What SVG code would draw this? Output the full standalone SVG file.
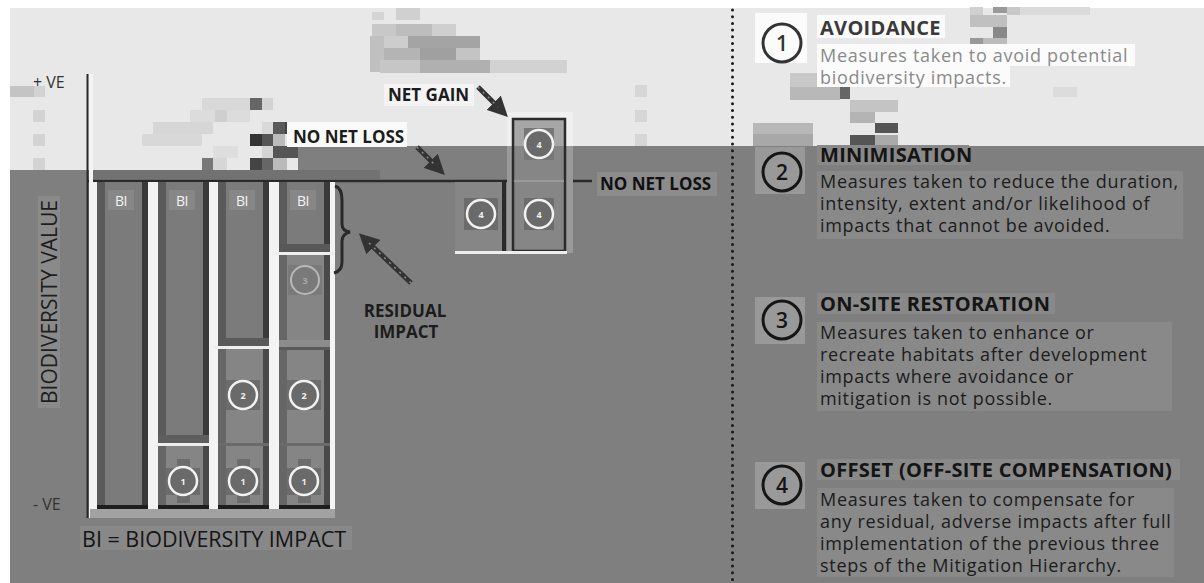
<svg xmlns="http://www.w3.org/2000/svg" width="1204" height="583" viewBox="0 0 1204 583">
<style>
  text{font-family:"Open Sans","Liberation Sans",sans-serif}
  .lbl{font-weight:700;font-size:17px;fill:#1c1c1c}
  .ax{font-size:16px;fill:#333}
  .bi{font-size:14px;fill:#f4f4f4;text-anchor:middle;letter-spacing:-0.5px}
  .bar{fill:#7b7b7b}
  .bl{fill:#5a5a5a}
  .br{fill:#3a3a3a}
  .bb{fill:#1e1e1e}
  .ws{fill:#f3f3f3}
  .sec{fill:#ffffff;fill-opacity:0.08}
  .ring{fill:#6a6a6a;stroke:#f2f2f2;stroke-width:2.5}
  .rnum{font-size:9px;font-weight:700;fill:#f0f0f0;text-anchor:middle}
  .hd{font-weight:700;font-size:20px;letter-spacing:0.3px;fill:#151515}
  .bd{font-size:18px;letter-spacing:0.7px;fill:#1c1c1c}
  .key{fill:none;stroke:#151515;stroke-width:3}
  .knum{font-size:21px;font-weight:600;fill:#151515;text-anchor:middle}
  .arr{stroke:#333;stroke-width:5;fill:none}
  .arrd{stroke:#8a8a8a;stroke-width:1.5;stroke-dasharray:2 5;fill:none}
  .tb{fill:#898989}
</style>
<defs>
  <marker id="head" viewBox="0 0 10 10" refX="3" refY="5" markerWidth="4" markerHeight="4" orient="auto">
    <path d="M0,0 L10,5 L0,10 z" fill="#333"/>
  </marker>
</defs>

<!-- backdrop: pale band above, grey field below -->
<rect width="1204" height="583" fill="#ffffff"/>
<rect x="10" y="8" width="1194" height="575" fill="#7f7f7f"/>
<path d="M10,8 H1204 V146 H298 V170 H10 Z" fill="#e8e8e8"/>

<!-- coarse pixel texture in the pale band -->
<g id="texture">
  <rect x="10" y="86" width="24" height="11" fill="#c4c4c4"/>
  <rect x="34" y="86" width="11" height="11" fill="#d2d2d2"/>
  <rect x="33" y="110" width="12" height="12" fill="#d4d4d4"/>
  <rect x="33" y="134" width="12" height="12" fill="#d4d4d4"/>
  <rect x="33" y="158" width="12" height="12" fill="#d4d4d4"/>
  <rect x="202" y="98" width="48" height="12" fill="#d8d8d8"/>
  <rect x="250" y="98" width="12" height="12" fill="#666"/>
  <rect x="262" y="98" width="11" height="12" fill="#d2d2d2"/>
  <rect x="190" y="110" width="60" height="12" fill="#dcdcdc"/>
  <rect x="215" y="110" width="12" height="12" fill="#cfcfcf"/>
  <rect x="153" y="122" width="60" height="12" fill="#d6d6d6"/>
  <rect x="262" y="122" width="11" height="12" fill="#d9d9d9"/>
  <rect x="273" y="122" width="12" height="12" fill="#5a5a5a"/>
  <rect x="285" y="122" width="13" height="12" fill="#444"/>
  <rect x="142" y="134" width="60" height="12" fill="#d8d8d8"/>
  <rect x="250" y="134" width="12" height="12" fill="#333"/>
  <rect x="262" y="134" width="11" height="12" fill="#555"/>
  <rect x="273" y="134" width="12" height="12" fill="#bbb"/>
  <rect x="213" y="146" width="25" height="12" fill="#dedede"/>
  <rect x="262" y="146" width="11" height="12" fill="#d4d4d4"/>
  <rect x="273" y="146" width="25" height="12" fill="#555"/>
  <rect x="202" y="158" width="11" height="12" fill="#777"/>
  <rect x="213" y="158" width="14" height="12" fill="#d6d6d6"/>
  <rect x="250" y="158" width="12" height="12" fill="#444"/>
  <rect x="262" y="158" width="11" height="12" fill="#666"/>
  <rect x="273" y="158" width="14" height="12" fill="#bbb"/>
  <rect x="372" y="12" width="12" height="8" fill="#d4d4d4"/>
  <rect x="396" y="8" width="24" height="12" fill="#d0d0d0"/>
  <rect x="372" y="24" width="24" height="12" fill="#c8c8c8"/>
  <rect x="396" y="24" width="36" height="12" fill="#bdbdbd"/>
  <rect x="432" y="24" width="24" height="12" fill="#cfcfcf"/>
  <rect x="370" y="36" width="14" height="36" fill="#c0c0c0"/>
  <rect x="384" y="36" width="24" height="12" fill="#cdcdcd"/>
  <rect x="408" y="36" width="72" height="12" fill="#a4a4a4"/>
  <rect x="384" y="48" width="36" height="12" fill="#b4b4b4"/>
  <rect x="420" y="48" width="36" height="12" fill="#a0a0a0"/>
  <rect x="456" y="48" width="24" height="12" fill="#c4c4c4"/>
  <rect x="380" y="60" width="40" height="13" fill="#c6c6c6"/>
  <rect x="420" y="60" width="70" height="13" fill="#b0b0b0"/>
  <rect x="490" y="60" width="77" height="13" fill="#d2d2d2"/>
  <rect x="635" y="85" width="12" height="12" fill="#d6d6d6"/>
  <rect x="635" y="110" width="12" height="12" fill="#d6d6d6"/>
  <rect x="635" y="134" width="12" height="12" fill="#d6d6d6"/>
  <rect x="970" y="7" width="13" height="8" fill="#d0d0d0"/>
  <rect x="993" y="7" width="14" height="6" fill="#999"/>
  <rect x="1007" y="7" width="13" height="8" fill="#c8c8c8"/>
  <rect x="1020" y="7" width="70" height="8" fill="#dadada"/>
  <rect x="970" y="15" width="37" height="12" fill="#c0c0c0"/>
  <rect x="993" y="27" width="14" height="11" fill="#888"/>
  <rect x="970" y="38" width="13" height="12" fill="#999"/>
  <rect x="983" y="38" width="24" height="12" fill="#bbb"/>
  <rect x="993" y="50" width="14" height="12" fill="#ccc"/>
  <rect x="1053" y="87" width="24" height="10" fill="#dcdcdc"/>
  <rect x="790" y="73" width="50" height="14" fill="#c8c8c8"/>
  <rect x="790" y="87" width="50" height="13" fill="#b8b8b8"/>
  <rect x="840" y="87" width="10" height="12" fill="#666"/>
  <rect x="850" y="100" width="48" height="12" fill="#c4c4c4"/>
  <rect x="850" y="112" width="25" height="11" fill="#b4b4b4"/>
  <rect x="875" y="123" width="23" height="10" fill="#555"/>
  <rect x="850" y="135" width="25" height="11" fill="#555"/>
  <rect x="875" y="135" width="23" height="11" fill="#aaa"/>
  <rect x="753" y="123" width="60" height="11" fill="#b8b8b8"/>
  <rect x="753" y="134" width="60" height="12" fill="#a8a8a8"/>
</g>

<!-- axes -->
<g id="axes">
  <rect x="88" y="170" width="292" height="9" fill="#727272"/>
  <line x1="88" y1="181" x2="592" y2="181" stroke="#2a2a2a" stroke-width="2.5"/>
  <rect x="89" y="74" width="4" height="444" fill="#f4f4f4"/>
  <line x1="87.5" y1="74" x2="87.5" y2="518" stroke="#2a2a2a" stroke-width="2"/>
  <text class="ax" x="33" y="88">+ VE</text>
  <text class="ax" x="33" y="510">- VE</text>
  <rect x="38" y="196" width="22" height="212" fill="#8a8a8a"/>
  <text transform="translate(57,302) rotate(-90)" text-anchor="middle" font-size="21" fill="#1e1e1e">BIODIVERSITY VALUE</text>
  <rect x="80" y="526" width="272" height="24" fill="#888"/>
  <text x="82" y="547" font-size="21.5" fill="#151515">BI = BIODIVERSITY IMPACT</text>
</g>

<!-- impact bars -->
<g id="bar-1">
  <rect class="ws" x="91" y="182" width="6" height="327"/>
  <rect class="bar" x="97" y="182" width="51" height="326"/>
  <rect class="bl" x="97" y="182" width="8" height="326"/>
  <rect class="br" x="142" y="182" width="6" height="326"/>
  <rect class="bb" x="97" y="505" width="51" height="4"/>
  <rect x="108" y="190" width="26" height="20" fill="#878787"/>
  <text class="bi" x="121" y="206">BI</text>
</g>
<g id="bar-2">
  <rect class="ws" x="148" y="182" width="10" height="327"/>
  <rect class="bar" x="158" y="182" width="51" height="326"/>
  <rect class="bl" x="158" y="182" width="8" height="326"/>
  <rect class="br" x="203" y="182" width="6" height="326"/>
  <rect x="158" y="435" width="51" height="8" fill="#5e5e5e"/>
  <rect class="sec" x="155" y="443" width="60" height="66"/>
  <rect x="155" y="443" width="60" height="3" fill="#eeeeee"/>
  <rect class="bb" x="158" y="505" width="51" height="4"/>
  <rect x="169" y="190" width="26" height="20" fill="#878787"/>
  <text class="bi" x="182" y="206">BI</text>
</g>
<g id="bar-3">
  <rect class="ws" x="209" y="182" width="9" height="327"/>
  <rect class="bar" x="218" y="182" width="51" height="326"/>
  <rect class="bl" x="218" y="182" width="8" height="326"/>
  <rect class="br" x="263" y="182" width="6" height="326"/>
  <rect x="218" y="338" width="51" height="8" fill="#5a5a5a"/>
  <rect class="sec" x="213" y="346" width="60" height="163"/>
  <rect x="213" y="346" width="60" height="3" fill="#eeeeee"/>
  <rect x="218" y="443" width="51" height="3" fill="#6a6a6a"/>
  <rect class="bb" x="218" y="505" width="51" height="4"/>
  <rect x="229" y="190" width="26" height="20" fill="#878787"/>
  <text class="bi" x="242" y="206">BI</text>
</g>
<g id="bar-4">
  <rect class="ws" x="269" y="182" width="10" height="327"/>
  <rect class="bar" x="279" y="182" width="51" height="326"/>
  <rect class="bl" x="279" y="182" width="8" height="326"/>
  <rect class="br" x="324" y="182" width="6" height="326"/>
  <rect class="ws" x="330" y="182" width="5" height="327"/>
  <rect x="279" y="244" width="51" height="8" fill="#585858"/>
  <rect class="sec" x="273" y="252" width="61" height="257"/>
  <rect x="273" y="252" width="61" height="3" fill="#eeeeee"/>
  <rect x="279" y="340" width="51" height="7" fill="#8c8c8c"/>
  <rect x="279" y="347" width="51" height="3" fill="#5a5a5a"/>
  <rect x="279" y="443" width="51" height="3" fill="#6a6a6a"/>
  <rect class="bb" x="279" y="505" width="51" height="4"/>
  <rect x="290" y="190" width="26" height="20" fill="#878787"/>
  <text class="bi" x="303" y="206">BI</text>
</g>
<rect x="90" y="509" width="245" height="9" fill="#a2a2a2"/>

<!-- step markers inside the bars -->
<g id="steps">
  <g><rect x="177" y="459" width="13" height="44" fill="#6c6c6c"/><rect x="166" y="468" width="34" height="27" fill="#6c6c6c"/>
    <circle class="ring" cx="183" cy="481" r="14"/><text class="rnum" x="183" y="484.5">1</text></g>
  <g><rect x="237" y="459" width="13" height="44" fill="#6c6c6c"/><rect x="226" y="468" width="34" height="27" fill="#6c6c6c"/>
    <circle class="ring" cx="243" cy="481" r="14"/><text class="rnum" x="243" y="484.5">1</text></g>
  <g><rect x="298" y="459" width="13" height="44" fill="#6c6c6c"/><rect x="287" y="468" width="34" height="27" fill="#6c6c6c"/>
    <circle class="ring" cx="304" cy="481" r="14"/><text class="rnum" x="304" y="484.5">1</text></g>
  <g><rect x="226" y="380" width="34" height="30" fill="#6c6c6c"/>
    <circle class="ring" cx="243" cy="395" r="14"/><text class="rnum" x="243" y="398.5">2</text></g>
  <g><rect x="287" y="380" width="34" height="30" fill="#6c6c6c"/>
    <circle class="ring" cx="304" cy="395" r="14"/><text class="rnum" x="304" y="398.5">2</text></g>
  <g><rect x="288" y="265" width="34" height="30" fill="#7a7a7a"/>
    <circle cx="305" cy="280" r="14" fill="none" stroke="#b8b8b8" stroke-width="2"/><text class="rnum" x="305" y="283.5" style="fill:#a8a8a8">3</text></g>
</g>

<!-- offset bars -->
<g id="offset-nnl">
  <rect x="455" y="182" width="50" height="70" fill="#868686"/>
  <rect x="502" y="182" width="4" height="70" fill="#2a2a2a"/>
  <rect x="464" y="198" width="34" height="32" fill="#6c6c6c"/>
  <circle class="ring" cx="481" cy="214" r="14"/><text class="rnum" x="481" y="217.5">4</text>
</g>
<g id="offset-gain">
  <rect x="507" y="112" width="66" height="34" fill="#f0f0f0"/>
  <rect x="507" y="146" width="66" height="107" fill="#9a9a9a"/>
  <rect x="513" y="119" width="52" height="27" fill="#a6a6a6"/>
  <rect x="513" y="146" width="52" height="105" fill="#868686"/>
  <rect x="524" y="128" width="30" height="32" fill="#777"/>
  <rect x="524" y="198" width="30" height="32" fill="#6c6c6c"/>
  <rect x="513" y="119" width="52" height="132" fill="none" stroke="#2b2b2b" stroke-width="2.5"/>
  <line x1="514" y1="181" x2="564" y2="181" stroke="#9a9a9a" stroke-width="2"/>
  <circle class="ring" cx="539" cy="144" r="14"/><text class="rnum" x="539" y="147.5">4</text>
  <circle class="ring" cx="539" cy="214" r="14"/><text class="rnum" x="539" y="217.5">4</text>
</g>
<rect x="455" y="251" width="112" height="3" fill="#eeeeee"/>

<!-- connectors: brace and pointer arrows -->
<g id="connectors">
  <path d="M335,186 Q342,188 342,200 V224 Q342,231 350,232 Q342,234 342,241 V262 Q342,271 334,273" fill="none" stroke="#2a2a2a" stroke-width="3"/>
  <line class="arr" x1="478" y1="87" x2="498" y2="107" marker-end="url(#head)"/>
  <line class="arrd" x1="478" y1="87" x2="498" y2="107"/>
  <line class="arr" x1="417" y1="147" x2="435" y2="165" marker-end="url(#head)"/>
  <line class="arrd" x1="417" y1="147" x2="435" y2="165"/>
  <line class="arr" x1="411" y1="283" x2="369" y2="243" marker-end="url(#head)"/>
  <line class="arrd" x1="411" y1="283" x2="369" y2="243"/>
</g>

<!-- chart labels -->
<g id="labels">
  <rect x="384" y="84" width="90" height="22" fill="#f4f4f4"/>
  <text class="lbl" x="388" y="101">NET GAIN</text>
  <rect x="287" y="122" width="120" height="25" fill="#fafafa"/>
  <text class="lbl" x="293" y="143">NO NET LOSS</text>
  <rect x="597" y="172" width="120" height="24" fill="#8c8c8c"/>
  <text class="lbl" x="600" y="190" style="fill:#111">NO NET LOSS</text>
  <text class="lbl" x="405" y="317" text-anchor="middle">RESIDUAL</text>
  <text class="lbl" x="406" y="338" text-anchor="middle">IMPACT</text>
</g>

<!-- dotted divider -->
<line x1="732.5" y1="10" x2="732.5" y2="583" stroke="#1a1a1a" stroke-width="3" stroke-linecap="round" stroke-dasharray="0 6.7"/>

<!-- key -->
<g id="key-1">
  <rect x="755" y="13" width="52" height="50" fill="#fbfbfb"/>
  <rect x="817" y="15" width="128" height="23" fill="#fbfbfb"/>
  <rect x="817" y="44" width="318" height="22" fill="#fbfbfb"/>
  <rect x="817" y="66" width="193" height="21" fill="#fbfbfb"/>
  <circle class="key" cx="782" cy="43" r="19" style="stroke:#333"/>
  <text class="knum" x="782" y="50.5" style="fill:#333">1</text>
  <text class="hd" x="820" y="35" style="fill:#3a3a3a">AVOIDANCE</text>
  <text class="bd" x="820" y="61.5" style="fill:#8a8a8a">Measures taken to avoid potential</text>
  <text class="bd" x="820" y="83.5" style="fill:#8a8a8a">biodiversity impacts.</text>
</g>
<g id="key-2">
  <rect x="755" y="147" width="50" height="47" fill="#999"/>
  <rect class="tb" x="817" y="145" width="152" height="20"/>
  <rect class="tb" x="817" y="171" width="366" height="68"/>
  <circle class="key" cx="782" cy="172" r="19"/>
  <text class="knum" x="782" y="179.5">2</text>
  <text class="hd" x="820" y="162">MINIMISATION</text>
  <text class="bd" x="820" y="188">Measures taken to reduce the duration,</text>
  <text class="bd" x="820" y="210">intensity, extent and/or likelihood of</text>
  <text class="bd" x="820" y="232">impacts that cannot be avoided.</text>
</g>
<g id="key-3">
  <rect x="755" y="297" width="50" height="47" fill="#999"/>
  <rect class="tb" x="817" y="293" width="238" height="21"/>
  <rect class="tb" x="817" y="322" width="355" height="89"/>
  <circle class="key" cx="782" cy="320" r="19"/>
  <text class="knum" x="782" y="327.5">3</text>
  <text class="hd" x="820" y="311">ON-SITE RESTORATION</text>
  <text class="bd" x="820" y="339">Measures taken to enhance or</text>
  <text class="bd" x="820" y="361">recreate habitats after development</text>
  <text class="bd" x="820" y="383">impacts where avoidance or</text>
  <text class="bd" x="820" y="405">mitigation is not possible.</text>
</g>
<g id="key-4">
  <rect x="755" y="462" width="50" height="47" fill="#999"/>
  <rect class="tb" x="817" y="459" width="363" height="21"/>
  <rect class="tb" x="817" y="488" width="357" height="89"/>
  <circle class="key" cx="782" cy="485" r="19"/>
  <text class="knum" x="782" y="492.5">4</text>
  <text class="hd" x="820" y="477">OFFSET (OFF-SITE COMPENSATION)</text>
  <text class="bd" x="820" y="506">Measures taken to compensate for</text>
  <text class="bd" x="820" y="528">any residual, adverse impacts after full</text>
  <text class="bd" x="820" y="550">implementation of the previous three</text>
  <text class="bd" x="820" y="572">steps of the Mitigation Hierarchy.</text>
</g>
</svg>
